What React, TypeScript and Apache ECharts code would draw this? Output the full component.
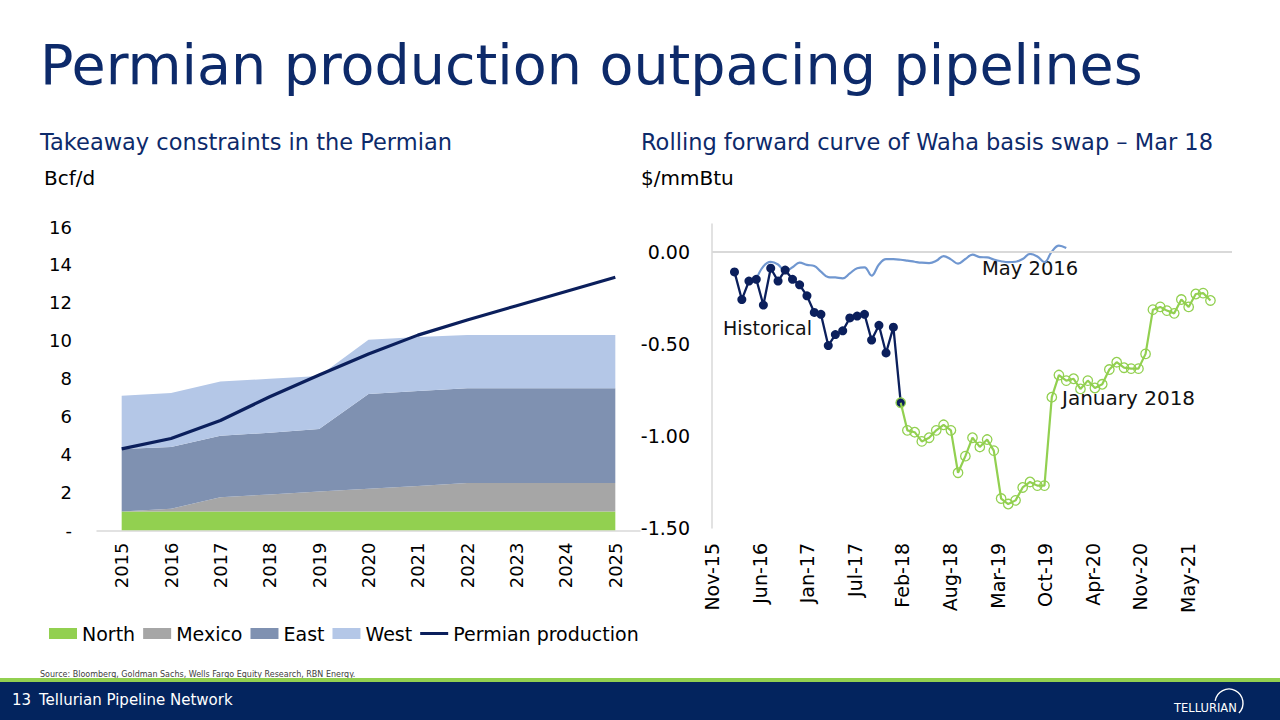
import React, { useEffect, useRef } from "react";
import * as echarts from "echarts";

const FONT = "'DejaVu Sans', sans-serif";
const NAVY = "#0D2A6A";
const LINE_NAVY = "#0B1F5C";

// ---------- Left chart: takeaway capacity (Bcf/d) ----------
const years = ["2015", "2016", "2017", "2018", "2019", "2020", "2021", "2022", "2023", "2024", "2025"];
const north = [1.0, 1.0, 1.0, 1.0, 1.0, 1.0, 1.0, 1.0, 1.0, 1.0, 1.0];
const mexico = [0.0, 0.15, 0.75, 0.9, 1.05, 1.2, 1.35, 1.5, 1.5, 1.5, 1.5];
const east = [3.3, 3.25, 3.25, 3.25, 3.3, 5.0, 5.0, 5.0, 5.0, 5.0, 5.0];
const west = [2.8, 2.85, 2.85, 2.85, 2.8, 2.85, 2.85, 2.8, 2.8, 2.8, 2.8];
const permianProduction = [4.3, 4.85, 5.8, 7.05, 8.2, 9.3, 10.3, 11.1, 11.85, 12.6, 13.35];
const leftYTicks = { min: 0, max: 16, interval: 2 };

// ---------- Right chart: Waha basis swap ($/mmBtu), monthly ----------
const historicalStart: [number, number] = [2016, 3];
const historical = [
  -0.11, -0.26, -0.16, -0.15, -0.29, -0.09, -0.16, -0.1, -0.15, -0.18, -0.24, -0.33,
  -0.34, -0.51, -0.45, -0.43, -0.36, -0.35, -0.34, -0.48, -0.4, -0.55, -0.41, -0.82,
];
const jan2018Start: [number, number] = [2018, 2];
const jan2018 = [
  -0.82, -0.97, -0.98, -1.03, -1.01, -0.97, -0.94, -0.97, -1.2, -1.11, -1.01, -1.06,
  -1.02, -1.08, -1.34, -1.37, -1.35, -1.28, -1.25, -1.27, -1.27, -0.79, -0.67, -0.7,
  -0.69, -0.745, -0.7, -0.74, -0.72, -0.64, -0.6, -0.63, -0.635, -0.635, -0.555, -0.315,
  -0.3, -0.32, -0.335, -0.26, -0.3, -0.23, -0.225, -0.265,
];
const may2016Start: [number, number] = [2016, 6];
const may2016 = [
  -0.15, -0.08, -0.056, -0.07, -0.105, -0.085, -0.06, -0.072, -0.078, -0.108, -0.138, -0.14,
  -0.145, -0.118, -0.09, -0.085, -0.13, -0.07, -0.041, -0.041, -0.044, -0.049, -0.055, -0.06,
  -0.062, -0.05, -0.024, -0.042, -0.065, -0.04, -0.016, -0.03, -0.031, -0.043, -0.052, -0.057,
  -0.055, -0.04, -0.012, -0.026, -0.057, 0.0, 0.033, 0.02,
];
const rightYTicks = { min: -1.5, max: 0.15, interval: 0.5 };
const MONTHS = ["Jan", "Feb", "Mar", "Apr", "May", "Jun", "Jul", "Aug", "Sep", "Oct", "Nov", "Dec"];
const AXIS_ORIGIN = Date.UTC(2015, 10, 27);
const DAY = 86400000;
const X_INTERVAL = 201;
const X_MAX = 2196;

function monthOffset(start: [number, number], i: number) {
  return (Date.UTC(start[0], start[1] - 1 + i, 1) - AXIS_ORIGIN) / DAY;
}
function toPairs(start: [number, number], values: number[]) {
  return values.map((v, i) => [monthOffset(start, i), v]);
}

export default function App() {
  const ref = useRef<HTMLDivElement>(null);
  useEffect(() => {
    document.body.style.margin = "0";
    const chart = echarts.init(ref.current!, undefined, { renderer: "svg" });
    const areaSeries = (name: string, data: number[], color: string) => ({
      name,
      type: "line",
      xAxisIndex: 0,
      yAxisIndex: 0,
      stack: "cap",
      data,
      symbol: "none",
      lineStyle: { width: 0, color },
      itemStyle: { color },
      areaStyle: { color, opacity: 1 },
      emphasis: { disabled: true },
      z: 2,
    });
    const option: any = {
      animation: false,
      textStyle: { fontFamily: FONT },
      grid: [
        { left: 97, right: 640, top: 227, bottom: 189.5 },
        { left: 712, right: 48, top: 224, bottom: 192 },
      ],
      xAxis: [
        {
          gridIndex: 0,
          type: "category",
          data: years,
          boundaryGap: true,
          axisLine: { lineStyle: { color: "#D9D9D9", width: 1.5 } },
          axisTick: { show: false },
          axisLabel: { rotate: 90, margin: 12, fontSize: 18, color: "#000", fontFamily: FONT },
        },
        {
          gridIndex: 1,
          type: "value",
          min: 0,
          max: X_MAX,
          interval: X_INTERVAL,
          axisLine: { show: false },
          axisTick: { show: false },
          splitLine: { show: false },
          axisLabel: {
            rotate: 90,
            margin: 15,
            fontSize: 19,
            color: "#000",
            fontFamily: FONT,
            formatter: (v: number) => {
              if (Math.abs(v / X_INTERVAL - Math.round(v / X_INTERVAL)) > 1e-6) return "";
              const d = new Date(AXIS_ORIGIN + v * DAY);
              return MONTHS[d.getUTCMonth()] + "-" + String(d.getUTCFullYear()).slice(2);
            },
          },
        },
      ],
      yAxis: [
        {
          gridIndex: 0,
          type: "value",
          ...leftYTicks,
          axisLine: { show: false },
          axisTick: { show: false },
          splitLine: { show: false },
          axisLabel: {
            margin: 25,
            fontSize: 18,
            color: "#000",
            fontFamily: FONT,
            formatter: (v: number) => (v === 0 ? "-" : String(v)),
          },
        },
        {
          gridIndex: 1,
          type: "value",
          ...rightYTicks,
          axisLine: { show: true, lineStyle: { color: "#D9D9D9", width: 1.5 } },
          axisTick: { show: false },
          splitLine: { show: false },
          axisLabel: {
            margin: 22,
            fontSize: 19,
            color: "#000",
            fontFamily: FONT,
            formatter: (v: number) =>
              Math.abs(v * 2 - Math.round(v * 2)) > 1e-6 ? "" : v.toFixed(2),
          },
        },
      ],
      legend: {
        left: 44,
        top: 619,
        itemWidth: 28,
        itemHeight: 11,
        itemGap: 8,
        textStyle: { fontFamily: FONT, fontSize: 19, color: "#000" },
        data: [
          { name: "North", icon: "rect" },
          { name: "Mexico", icon: "rect" },
          { name: "East", icon: "rect" },
          { name: "West", icon: "rect" },
          { name: "Permian production", icon: "path://M0,0H28V3H0Z", itemStyle: { color: LINE_NAVY } },
        ],
      },
      series: [
        areaSeries("North", north, "#92D050"),
        areaSeries("Mexico", mexico, "#A6A6A6"),
        areaSeries("East", east, "#7F91B1"),
        areaSeries("West", west, "#B4C7E7"),
        {
          name: "Permian production",
          type: "line",
          xAxisIndex: 0,
          yAxisIndex: 0,
          data: permianProduction,
          symbol: "none",
          lineStyle: { width: 3.2, color: LINE_NAVY },
          itemStyle: { color: LINE_NAVY },
          z: 5,
        },
        {
          name: "May 2016",
          type: "line",
          xAxisIndex: 1,
          yAxisIndex: 1,
          data: toPairs(may2016Start, may2016),
          symbol: "none",
          smooth: 0.4,
          lineStyle: { width: 2.2, color: "#7097D0" },
          itemStyle: { color: "#7097D0" },
          markLine: {
            silent: true,
            symbol: ["none", "none"],
            label: { show: false },
            lineStyle: { color: "#D9D9D9", width: 2, type: "solid" },
            data: [{ yAxis: 0 }],
          },
          z: 3,
        },
        {
          name: "Historical",
          type: "line",
          xAxisIndex: 1,
          yAxisIndex: 1,
          data: toPairs(historicalStart, historical),
          symbol: "circle",
          symbolSize: 9,
          lineStyle: { width: 2.3, color: LINE_NAVY },
          itemStyle: { color: LINE_NAVY },
          z: 4,
        },
        {
          name: "January 2018",
          type: "line",
          xAxisIndex: 1,
          yAxisIndex: 1,
          data: toPairs(jan2018Start, jan2018),
          symbol: "circle",
          symbolSize: 9.5,
          lineStyle: { width: 2.2, color: "#92D050" },
          itemStyle: { color: "rgba(255,255,255,0)", borderColor: "#92D050", borderWidth: 1.3 },
          z: 5,
        },
      ],
      graphic: [
        {
          type: "text",
          left: 40,
          top: 36,
          style: { text: "Permian production outpacing pipelines", fill: NAVY, font: `55.5px ${FONT}` },
        },
        {
          type: "text",
          left: 40,
          top: 130,
          style: { text: "Takeaway constraints in the Permian", fill: NAVY, font: `22.5px ${FONT}` },
        },
        {
          type: "text",
          left: 641,
          top: 130,
          style: {
            text: "Rolling forward curve of Waha basis swap \u2013 Mar 18",
            fill: NAVY,
            font: `22.5px ${FONT}`,
          },
        },
        { type: "text", left: 44, top: 168, style: { text: "Bcf/d", fill: "#000", font: `20px ${FONT}` } },
        { type: "text", left: 641, top: 168, style: { text: "$/mmBtu", fill: "#000", font: `20px ${FONT}` } },
        { type: "text", left: 723, top: 318, style: { text: "Historical", fill: "#111", font: `19px ${FONT}` } },
        { type: "text", left: 982, top: 258, style: { text: "May 2016", fill: "#111", font: `19.5px ${FONT}` } },
        { type: "text", left: 1062, top: 388, style: { text: "January 2018", fill: "#111", font: `20px ${FONT}` } },
        {
          type: "text",
          left: 40,
          top: 670,
          style: {
            text: "Source: Bloomberg, Goldman Sachs, Wells Fargo Equity Research, RBN Energy.",
            fill: "#404040",
            font: `8px ${FONT}`,
          },
        },
        { type: "rect", shape: { x: 0, y: 678, width: 1280, height: 5 }, style: { fill: "#92D050" } },
        { type: "rect", shape: { x: 0, y: 682, width: 1280, height: 38 }, style: { fill: "#03245E" } },
        { type: "text", left: 12, top: 692, style: { text: "13", fill: "#fff", font: `15px ${FONT}` } },
        {
          type: "text",
          left: 39,
          top: 692,
          style: { text: "Tellurian Pipeline Network", fill: "#fff", font: `15px ${FONT}` },
        },
        { type: "text", left: 1174, top: 702, style: { text: "TELLURIAN", fill: "#fff", font: `11.5px ${FONT}` } },
        {
          type: "arc",
          shape: { cx: 1229, cy: 703, r: 14, startAngle: Math.PI * 1.05, endAngle: Math.PI * 2.25, clockwise: true },
          style: { stroke: "#fff", lineWidth: 1.4, fill: "none" },
        },
      ],
    };
    chart.setOption(option);
    return () => chart.dispose();
  }, []);
  return <div ref={ref} style={{ position: "fixed", left: 0, top: 0, width: 1280, height: 720, background: "#fff" }} />;
}
